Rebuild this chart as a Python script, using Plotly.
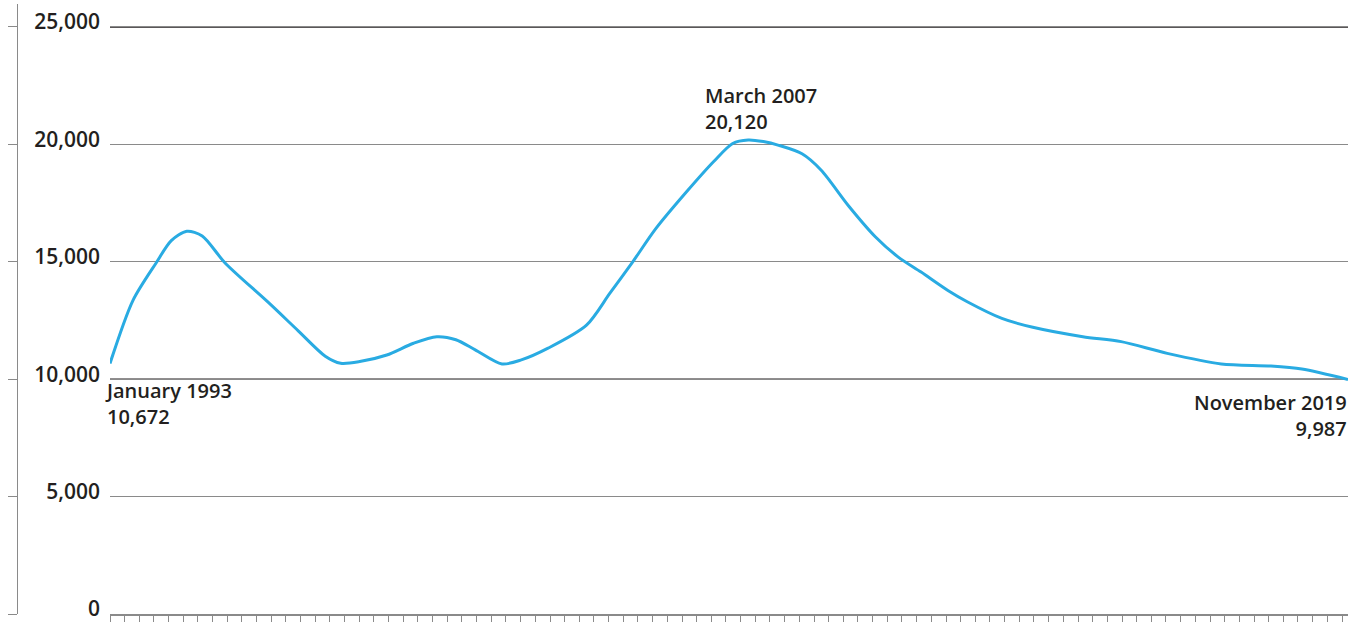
import numpy as np
import pandas as pd
import plotly.graph_objects as go

# ---- data ----
dates = ["1993-01-01", "1993-07-01", "1994-01-01", "1994-05-01", "1994-09-01", "1995-01-01",
         "1995-07-01", "1996-06-01", "1997-02-01", "1997-09-01", "1998-01-01", "1998-06-01",
         "1999-01-01", "1999-08-01", "2000-02-01", "2000-07-01", "2000-12-01", "2001-07-01",
         "2001-12-01", "2002-07-01", "2003-05-01", "2003-11-01", "2004-05-01", "2004-11-01",
         "2005-07-01", "2006-02-01", "2006-07-01", "2006-11-01", "2007-03-01", "2007-07-01",
         "2008-01-01", "2008-06-01", "2009-01-01", "2009-08-01", "2010-02-01", "2010-08-01",
         "2011-03-01", "2011-08-01", "2012-05-01", "2013-01-01", "2014-02-01", "2014-12-01",
         "2015-12-01", "2017-02-01", "2018-03-01", "2018-11-01", "2019-11-01"]
values = [10672, 13350, 14950, 15900, 16300, 16100,
          14950, 13300, 12050, 10980, 10680, 10750,
          11030, 11530, 11810, 11680, 11250, 10650,
          10820, 11320, 12300, 13650, 15000, 16420,
          17980, 19270, 20040, 20190, 20120, 19960,
          19600, 18900, 17400, 16080, 15200, 14560,
          13780, 13300, 12590, 12210, 11810, 11600,
          11100, 10650, 10560, 10430, 9987]

y_ticks = [0, 5000, 10000, 15000, 20000, 25000]
y_tick_text = ["0", "5,000", "10,000", "15,000", "20,000", "25,000"]
dark_lines = [10000, 25000]

# annotation: (date, value, text)
ann_start = ("1993-01-01", 10672, "January 1993<br>10,672")
ann_peak = ("2007-03-01", 20120, "March 2007<br>20,120")
ann_end = ("2019-11-01", 9987, "November 2019<br>9,987")

TEXT = "#231f20"
FONT = "Open Sans"

fig = go.Figure()
fig.add_trace(go.Scatter(
    x=dates, y=values, mode="lines",
    line=dict(color="#29abe2", width=3, shape="spline", smoothing=0.8),
    hoverinfo="skip", showlegend=False,
))

# x tick positions (evenly spaced minor ticks)
t0 = pd.Timestamp("1993-01-01").value
t1 = pd.Timestamp("2019-09-15").value
tick_dates = pd.to_datetime(np.linspace(t0, t1, 85)).strftime("%Y-%m-%d").tolist()

W, H = 1355, 624
ml, mr = 17, 7
dom0 = (110 - ml) / (W - ml - mr)
yrange = [0, 25979]

fig.update_layout(
    width=W, height=H,
    margin=dict(l=ml, r=mr, t=4, b=10, autoexpand=False),
    paper_bgcolor="white", plot_bgcolor="white",
    font=dict(family=FONT, color=TEXT),
    xaxis=dict(
        domain=[dom0, 1], automargin=False,
        range=["1993-01-01", "2019-11-01"],
        tickvals=tick_dates, ticktext=[""] * len(tick_dates),
        ticks="outside", ticklen=6, tickcolor="#8a8a8a", tickwidth=1,
        showline=True, linecolor="#8a8a8a", linewidth=1.5,
        showgrid=False, zeroline=False,
    ),
    yaxis=dict(
        range=yrange, automargin=False,
        tickvals=y_ticks, ticktext=y_tick_text,
        tickfont=dict(family=FONT, size=21, color=TEXT, weight=600),
        ticks="", ticklabelstandoff=9, ticklabelshift=-5, ticklabeloverflow="allow",
        showgrid=True, gridcolor="#8a8a8a", gridwidth=1.3,
        showline=False, zeroline=False,
    ),
    yaxis2=dict(
        overlaying="y", anchor="free", position=0, side="left", automargin=False,
        range=yrange, tickvals=y_ticks, showticklabels=False,
        ticks="outside", ticklen=9, tickcolor="#8a8a8a", tickwidth=1,
        showline=True, linecolor="#8a8a8a", linewidth=1.3,
        showgrid=False, zeroline=False,
    ),
)

# invisible trace to keep yaxis2 alive
fig.add_trace(go.Scatter(x=[dates[0]], y=[None], yaxis="y2", showlegend=False, hoverinfo="skip"))

for v in dark_lines:
    fig.add_shape(type="line", xref="x domain", yref="y", x0=0, x1=1, y0=v, y1=v,
                  line=dict(color=TEXT, width=1.3), layer="below")

afont = dict(family=FONT, size=20, color=TEXT, weight=600)

d, v, t = ann_start
fig.add_annotation(x=d, y=v, text=t, showarrow=False, xanchor="left", yanchor="top",
                   align="left", xshift=-7, yshift=-12, font=afont)
d, v, t = ann_peak
fig.add_annotation(x=d, y=v, text=t, showarrow=False, xanchor="left", yanchor="bottom",
                   align="left", xshift=-60, yshift=5, font=afont)
d, v, t = ann_end
fig.add_annotation(x=d, y=v, text=t, showarrow=False, xanchor="right", yanchor="top",
                   align="right", xshift=1, yshift=-7, font=afont)

fig.write_html("out.html")
